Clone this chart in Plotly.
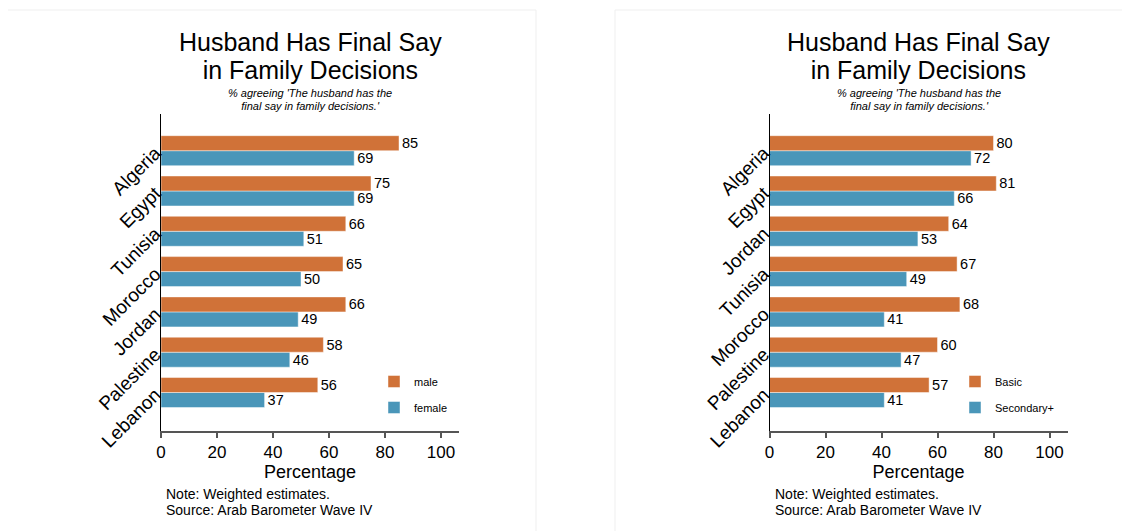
import plotly.graph_objects as go

# ---------------- data ----------------
countries_left = ["Algeria", "Egypt", "Tunisia", "Morocco", "Jordan", "Palestine", "Lebanon"]
male = [85, 75, 66, 65, 66, 58, 56]
female = [69, 69, 51, 50, 49, 46, 37]

countries_right = ["Algeria", "Egypt", "Jordan", "Tunisia", "Morocco", "Palestine", "Lebanon"]
basic = [80, 81, 64, 67, 68, 60, 57]
secondary = [72, 66, 53, 49, 41, 47, 41]

x_ticks = [0, 20, 40, 60, 80, 100]

title_lines = ["Husband Has Final Say", "in Family Decisions"]
subtitle_lines = ["% agreeing 'The husband has the", "final say in family decisions.'"]
note_lines = ["Note: Weighted estimates.", "Source: Arab Barometer Wave IV"]

# ---------------- style ----------------
OFF = 8  # page body margin
W, H = 1130 - OFF, 531 - OFF
FONT = "Liberation Sans, Arial, Helvetica, sans-serif"
ORANGE = "#D07238"
BLUE = "#4A96B9"


def px_x(p):
    return (p - OFF) / W


def px_y(p):
    return 1 - (p - OFF) / H


fig = go.Figure()

panels = [
    dict(cats=countries_left, top=male, bot=female, names=("male", "female"),
         xa="x", ya="y", legend="legend"),
    dict(cats=countries_right, top=basic, bot=secondary, names=("Basic", "Secondary+"),
         xa="x2", ya="y2", legend="legend2"),
]

for k, p in enumerate(panels):
    # bottom bar of each group first (plotly places first trace lower)
    fig.add_trace(go.Bar(
        y=p["cats"], x=p["bot"], orientation="h", name=p["names"][1],
        marker=dict(color=BLUE, line=dict(color="rgba(255,255,255,0.45)", width=1)),
        text=[str(v) for v in p["bot"]], textposition="outside", constraintext="none",
        textfont=dict(size=14.5, color="black", family=FONT), cliponaxis=False,
        xaxis=p["xa"], yaxis=p["ya"], legend=p["legend"], legendrank=2,
        legendgroup=f"b{k}", hoverinfo="skip",
    ))
    fig.add_trace(go.Bar(
        y=p["cats"], x=p["top"], orientation="h", name=p["names"][0],
        marker=dict(color=ORANGE, line=dict(color="rgba(255,255,255,0.45)", width=1)),
        text=[str(v) for v in p["top"]], textposition="outside", constraintext="none",
        textfont=dict(size=14.5, color="black", family=FONT), cliponaxis=False,
        xaxis=p["xa"], yaxis=p["ya"], legend=p["legend"], legendrank=1,
        legendgroup=f"a{k}", hoverinfo="skip",
    ))

ydom = [px_y(431), px_y(114)]
xr = [0, (459 - 161) / 2.8]

common_x = dict(range=xr, tickvals=x_ticks, ticks="outside", ticklen=5, tickwidth=1.5,
                tickcolor="#555555", showline=True, linecolor="#555555", linewidth=2,
                showgrid=False, zeroline=False, fixedrange=True, automargin=False,
                tickfont=dict(size=17, color="black", family=FONT),
                title=dict(text="Percentage", font=dict(size=18, color="black", family=FONT),
                           standoff=4))


def ycommon(cats):
    return dict(categoryorder="array", categoryarray=list(reversed(cats)),
                range=[-0.955, 6.91], tickangle=-45, ticks="", showline=True,
                linecolor="black", linewidth=1, showgrid=False, zeroline=False,
                fixedrange=True, automargin=False, ticklabelstandoff=1,
                tickfont=dict(size=19, color="black", family=FONT))


leg_common = dict(xanchor="left", yanchor="top", bgcolor="rgba(0,0,0,0)",
                  font=dict(size=11, family=FONT), traceorder="grouped", tracegroupgap=7)

fig.update_layout(
    width=W, height=H,
    margin=dict(l=0, r=0, t=0, b=0),
    paper_bgcolor="white", plot_bgcolor="white",
    barmode="group", bargap=0.256, bargroupgap=0,
    font=dict(family=FONT, color="black"),
    xaxis=dict(domain=[px_x(161), px_x(459)], anchor="y", **common_x),
    yaxis=dict(domain=ydom, anchor="x", **ycommon(countries_left)),
    xaxis2=dict(domain=[px_x(769.5), px_x(1067.5)], anchor="y2", **common_x),
    yaxis2=dict(domain=ydom, anchor="x2", **ycommon(countries_right)),
    legend=dict(x=px_x(374), y=px_y(367), **leg_common),
    legend2=dict(x=px_x(955), y=px_y(367), **leg_common),
    showlegend=True,
)

# panel borders
fig.add_shape(type="rect", xref="paper", yref="paper", x0=px_x(7), x1=px_x(536),
              y0=-0.1, y1=px_y(10), line=dict(color="#EFEFEF", width=1), layer="below")
fig.add_shape(type="rect", xref="paper", yref="paper", x0=px_x(615), x1=1.1,
              y0=-0.1, y1=px_y(10), line=dict(color="#EFEFEF", width=1), layer="below")


def block(lines, size, spacing, italic=False):
    """Multi-line text whose line spacing (1.3 x base size) is set via the base size."""
    parts = []
    for t in lines:
        s = f'<span style="font-size:{size}px">{t}</span>'
        if italic:
            s = "<i>" + s + "</i>"
        parts.append(s)
    return "<br>".join(parts), spacing / 1.3


annotations = []
for cx, nx in [(310, 164), (918.5, 772.5)]:
    txt, base = block(title_lines, 25, 28)
    annotations.append(dict(text=txt, x=px_x(cx), y=px_y(56.5), xref="paper", yref="paper",
                            xanchor="center", yanchor="middle", showarrow=False,
                            font=dict(size=base, color="black", family=FONT)))
    txt, base = block(subtitle_lines, 11, 12.5, italic=True)
    annotations.append(dict(text=txt, x=px_x(cx), y=px_y(99), xref="paper", yref="paper",
                            xanchor="center", yanchor="middle", showarrow=False,
                            font=dict(size=base, color="black", family=FONT)))
    txt, base = block(note_lines, 14, 16)
    annotations.append(dict(text=txt, x=px_x(nx), y=px_y(501.5), xref="paper",
                            yref="paper", xanchor="left", yanchor="middle", align="left",
                            showarrow=False,
                            font=dict(size=base, color="black", family=FONT)))
fig.update_layout(annotations=annotations)

fig.write_html("out.html")
